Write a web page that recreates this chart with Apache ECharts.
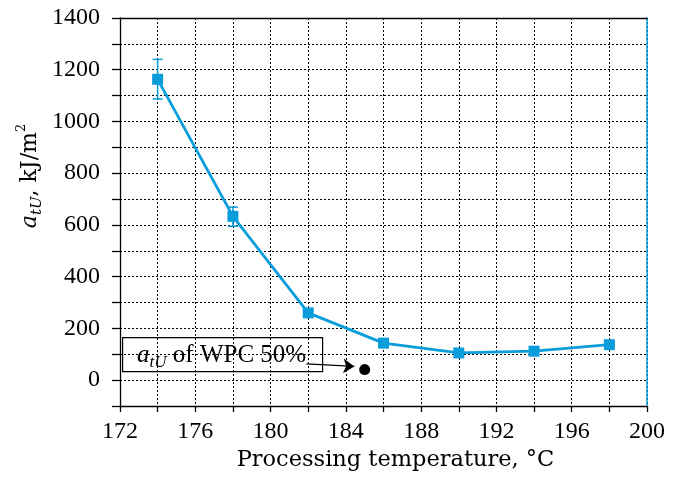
<!DOCTYPE html>
<html>
<head>
<meta charset="utf-8">
<script src="https://cdn.jsdelivr.net/npm/echarts@6/dist/echarts.min.js"></script>
<style>
  html, body { margin: 0; padding: 0; background: #fff; }
  #chart { width: 680px; height: 479px; }
</style>
</head>
<body>
<div id="chart"></div>
<script>
// processing temperature (°C) and impact strength a_tU (kJ/m2)
const temps = [174, 178, 182, 186, 190, 194, 198];
const atu = [1163, 633, 260, 143, 105, 112, 137];
const errLow = [1087, 595, 250, 136, 99, 106, 131];
const errHigh = [1240, 669, 270, 150, 111, 118, 143];
// reference point for WPC 50%
const wpcTemp = [185];
const wpcValue = [41];

const blue = '#0a9ddb';
const font = 'Liberation Serif';
const titleFont = 'DejaVu Serif';

const chart = echarts.init(document.getElementById('chart'));

const dotted = { show: true, lineStyle: { color: '#000', type: [2, 2], width: 1 } };

chart.setOption({
  animation: false,
  grid: { left: 120, right: 33, top: 18, bottom: 73, outerBoundsMode: 'none' },
  xAxis: [
    {
      type: 'value', min: 172, max: 200, interval: 2,
      axisLine: { onZero: false, lineStyle: { color: '#000', width: 1.3 } },
      axisTick: { length: 6, lineStyle: { color: '#000', width: 1.3 } },
      axisLabel: {
        color: '#000', fontFamily: font, fontSize: 24, margin: 14,
        formatter: v => (v % 4 === 0 ? v : '')
      },
      splitLine: dotted,
      name: 'Processing temperature, °C',
      nameLocation: 'middle', nameGap: 41,
      nameTextStyle: { color: '#000', fontFamily: titleFont, fontSize: 22.5, padding: [0, 0, 0, 24] }
    },
    {
      type: 'value', position: 'top', min: 172, max: 200,
      axisLine: { show: true, onZero: false, lineStyle: { color: '#000', width: 1.3 } },
      axisTick: { show: false }, axisLabel: { show: false }, splitLine: { show: false }
    }
  ],
  yAxis: [
    {
      type: 'value', min: -100, max: 1400, interval: 100,
      axisLine: { show: true, onZero: false, lineStyle: { color: '#000', width: 1.3 } },
      axisTick: { show: true, length: 8, lineStyle: { color: '#000', width: 1.3 } },
      axisLabel: {
        color: '#000', fontFamily: font, fontSize: 24, margin: 20,
        formatter: v => (v % 200 === 0 ? v : '')
      },
      splitLine: dotted
    },
    {
      type: 'value', position: 'right', min: -100, max: 1400,
      axisLine: { show: true, onZero: false, lineStyle: { color: blue, width: 1.5 } },
      axisTick: { show: false }, axisLabel: { show: false }, splitLine: { show: false }
    }
  ],
  graphic: [
    {
      type: 'text', x: 30, y: 176, rotation: Math.PI / 2,
      style: {
        text: '{i|a}{s|tU}{n|, kJ/m}{p|2}',
        align: 'center', verticalAlign: 'middle',
        rich: {
          i: { fontFamily: titleFont, fontStyle: 'italic', fontSize: 22, lineHeight: 30, verticalAlign: 'middle' },
          s: { fontFamily: titleFont, fontStyle: 'italic', fontSize: 15, lineHeight: 30, verticalAlign: 'bottom' },
          n: { fontFamily: titleFont, fontSize: 22, lineHeight: 30, verticalAlign: 'middle' },
          p: { fontFamily: titleFont, fontSize: 13, lineHeight: 30, verticalAlign: 'top' }
        }
      }
    },
    {
      type: 'group', left: 122, top: 337,
      children: [
        { type: 'rect', shape: { x: 0, y: 0, width: 200, height: 34 },
          style: { fill: '#fff', stroke: '#000', lineWidth: 1.2 } },
        {
          type: 'text', x: 99, y: 18,
          style: {
            text: '{i|a}{s|tU}{n| of WPC 50%}',
            align: 'center', verticalAlign: 'middle',
            rich: {
              i: { fontFamily: font, fontStyle: 'italic', fontSize: 25, lineHeight: 30, verticalAlign: 'middle' },
              s: { fontFamily: font, fontStyle: 'italic', fontSize: 17, lineHeight: 30, verticalAlign: 'bottom' },
              n: { fontFamily: font, fontSize: 25, lineHeight: 30, verticalAlign: 'middle' }
            }
          }
        }
      ]
    }
  ],
  series: [
    {
      type: 'line',
      data: temps.map((t, i) => [t, atu[i]]),
      symbol: 'rect', symbolSize: 11,
      itemStyle: { color: blue },
      lineStyle: { color: blue, width: 2.8 },
      z: 5
    },
    {
      type: 'custom',
      data: temps.map((t, i) => [t, errLow[i], errHigh[i]]),
      renderItem: (params, api) => {
        const lo = api.coord([api.value(0), api.value(1)]);
        const hi = api.coord([api.value(0), api.value(2)]);
        const w = 5;
        const st = { stroke: blue, lineWidth: 1.5 };
        return {
          type: 'group',
          children: [
            { type: 'line', shape: { x1: lo[0], y1: lo[1], x2: hi[0], y2: hi[1] }, style: st },
            { type: 'line', shape: { x1: lo[0] - w, y1: lo[1], x2: lo[0] + w, y2: lo[1] }, style: st },
            { type: 'line', shape: { x1: hi[0] - w, y1: hi[1], x2: hi[0] + w, y2: hi[1] }, style: st }
          ]
        };
      },
      z: 4
    },
    {
      type: 'scatter',
      data: wpcTemp.map((t, i) => [t, wpcValue[i]]),
      symbol: 'circle', symbolSize: 11,
      itemStyle: { color: '#000', opacity: 1 },
      markLine: {
        silent: true,
        symbol: ['none', 'arrow'], symbolSize: 11,
        lineStyle: { color: '#000', width: 1.3, type: 'solid' },
        label: { show: false },
        data: [[{ coord: [181.9, 63] }, { coord: [184.45, 53] }]]
      },
      z: 6
    }
  ]
});
</script>
</body>
</html>
